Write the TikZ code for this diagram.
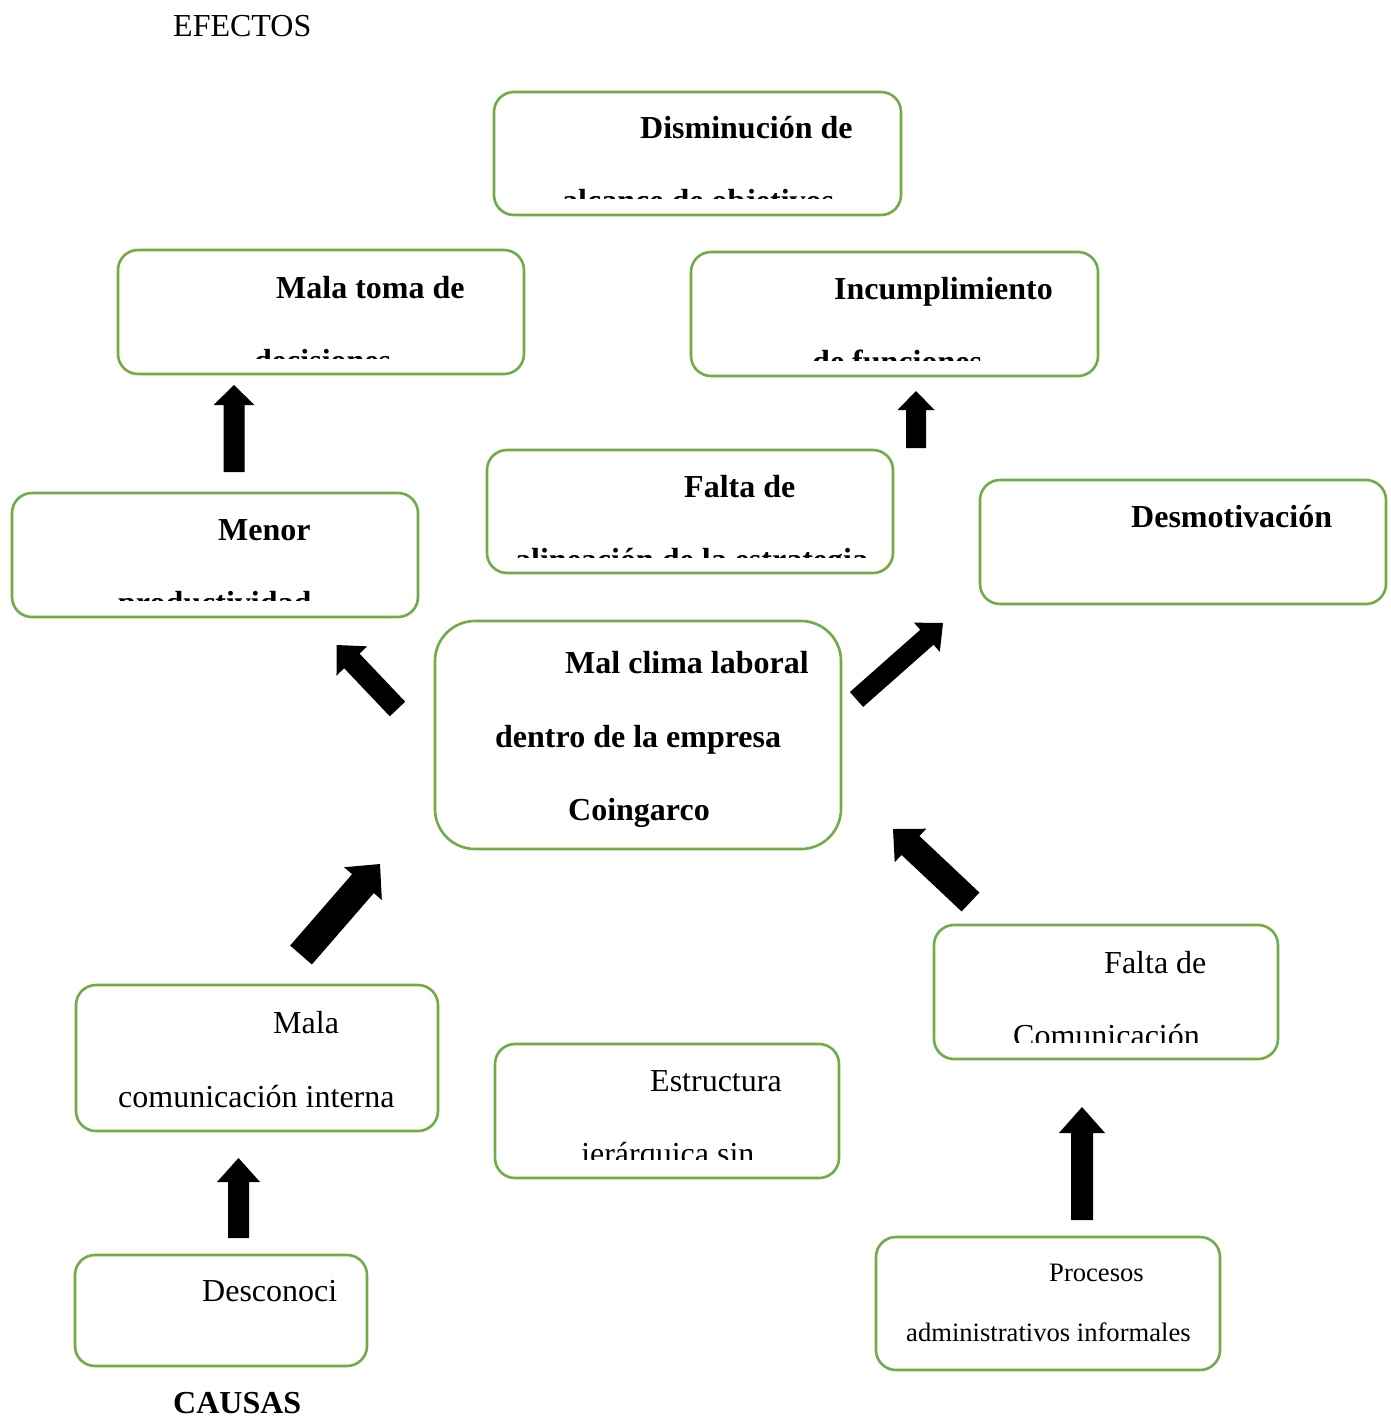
\documentclass[tikz,border=0pt]{standalone}
\usepackage{fontspec}
\setmainfont{Liberation Serif}
\usetikzlibrary{calc}
\definecolor{bgreen}{HTML}{70AD47}
\tikzset{
  box/.style={draw=bgreen, line width=2.6pt, rounded corners=20pt, inner sep=0pt, fill=white},
  tb/.style={font=\fontsize{32}{38}\selectfont\bfseries, inner sep=0pt, anchor=base west},
  tr/.style={font=\fontsize{32}{38}\selectfont, inner sep=0pt, anchor=base west},
  ts/.style={font=\fontsize{26.6}{32}\selectfont, inner sep=0pt, anchor=base west},
}
% tail, tip, shaft half width, head half width, head length
\newcommand\fatarrow[5]{%
  \coordinate (fa-b) at ($(#2)!#5!(#1)$);
  \fill[black] ($(#1)!#3!90:(#2)$) -- ($(fa-b)!#3!90:(#2)$) -- ($(fa-b)!#4!90:(#2)$) -- (#2)
     -- ($(fa-b)!#4!-90:(#2)$) -- ($(fa-b)!#3!-90:(#2)$) -- ($(#1)!#3!-90:(#2)$) -- cycle;}
\begin{document}
\begin{tikzpicture}[x=1pt,y=-1pt]
\useasboundingbox (0,0) rectangle (1391,1419);
\fill[white] (0,0) rectangle (1391,1419);

% labels
\node[tr] (efectos) at (173,36) {EFECTOS};
\node[tb] (causas) at (173,1413) {CAUSAS};

% boxes
\node[box, minimum width=407pt, minimum height=123pt] (b1) at (697.5,153.5) {};
\node[box, minimum width=406pt, minimum height=124pt] (b2) at (321,312) {};
\node[box, minimum width=407pt, minimum height=124pt] (b3) at (894.5,314) {};
\node[box, minimum width=406pt, minimum height=123pt] (b4) at (690,511.5) {};
\node[box, minimum width=406pt, minimum height=124pt] (b5) at (215,555) {};
\node[box, minimum width=406pt, minimum height=124pt] (b6) at (1183,542) {};
\node[box, rounded corners=40pt, minimum width=406pt, minimum height=228pt] (b7) at (638,735) {};
\node[box, minimum width=362pt, minimum height=146pt] (b8) at (257,1058) {};
\node[box, minimum width=344pt, minimum height=134pt] (b9) at (667,1111) {};
\node[box, minimum width=344pt, minimum height=134pt] (b10) at (1106,992) {};
\node[box, minimum width=344pt, minimum height=133pt] (b11) at (1048,1303.5) {};
\node[box, minimum width=292pt, minimum height=111pt] (b12) at (221,1310.5) {};

% texts (clipped where the reference cuts them)
\begin{scope}\clip (494,92) rectangle (901,198);
\node[tb] (t1a) at (640,138) {Disminución de};
\node[tb] (t1b) at (562,211.5) {alcance de objetivos};
\end{scope}
\begin{scope}\clip (118,250) rectangle (524,358);
\node[tb] (t2a) at (276,298) {Mala toma de};
\node[tb] (t2b) at (254,371.5) {decisiones};
\end{scope}
\begin{scope}\clip (691,252) rectangle (1098,360);
\node[tb] (t3a) at (834,299) {Incumplimiento};
\node[tb] (t3b) at (812,372.5) {de funciones};
\end{scope}
\begin{scope}\clip (487,450) rectangle (893,557);
\node[tb] (t4a) at (684,497) {Falta de};
\node[tb] (t4b) at (515,570.5) {alineación de la estrategia};
\end{scope}
\begin{scope}\clip (12,493) rectangle (418,600);
\node[tb] (t5a) at (218,540) {Menor};
\node[tb] (t5b) at (118,613.5) {productividad};
\end{scope}
\node[tb] (t6a) at (1131,527) {Desmotivación};
\node[tb] (t7a) at (565,673) {Mal clima laboral};
\node[tb] (t7b) at (495,747) {dentro de la empresa};
\node[tb] (t7c) at (568,820) {Coingarco};
\node[tr] (t8a) at (273,1033) {Mala};
\node[tr] (t8b) at (118,1107) {comunicación interna};
\begin{scope}\clip (495,1044) rectangle (839,1159);
\node[tr] (t9a) at (650,1091) {Estructura};
\node[tr] (t9b) at (581,1164.5) {jerárquica sin};
\end{scope}
\begin{scope}\clip (934,925) rectangle (1278,1042);
\node[tr] (t10a) at (1104,973) {Falta de};
\node[tr] (t10b) at (1013,1046.5) {Comunicación};
\end{scope}
\node[ts] (t11a) at (1049,1281) {Procesos};
\node[ts] (t11b) at (906,1341) {administrativos informales};
\node[tr] (t12a) at (202,1301) {Desconoci};

% arrow ends
\coordinate (a1s) at (234,472);   \coordinate (a1e) at (234,385);
\coordinate (a2s) at (916,448);   \coordinate (a2e) at (916,391);
\coordinate (a3s) at (397.5,709); \coordinate (a3e) at (336.7,645);
\coordinate (a4s) at (856.5,699.5); \coordinate (a4e) at (943,623);
\coordinate (a5s) at (301,955);   \coordinate (a5e) at (380,864);
\coordinate (a6s) at (970.5,902); \coordinate (a6e) at (893,829);
\coordinate (a7s) at (238.5,1238); \coordinate (a7e) at (238.5,1158);
\coordinate (a8s) at (1082,1220); \coordinate (a8e) at (1082,1107);

\fatarrow{a1s}{a1e}{10.5pt}{20.5pt}{20pt}
\fatarrow{a2s}{a2e}{10pt}{18.5pt}{19pt}
\fatarrow{a3s}{a3e}{10.6pt}{21.2pt}{22pt}
\fatarrow{a4s}{a4e}{10pt}{19.5pt}{21.5pt}
\fatarrow{a5s}{a5e}{14.4pt}{25pt}{26pt}
\fatarrow{a6s}{a6e}{13pt}{23pt}{24pt}
\fatarrow{a7s}{a7e}{10.5pt}{21.5pt}{24pt}
\fatarrow{a8s}{a8e}{11pt}{23pt}{26pt}
\end{tikzpicture}
\end{document}
